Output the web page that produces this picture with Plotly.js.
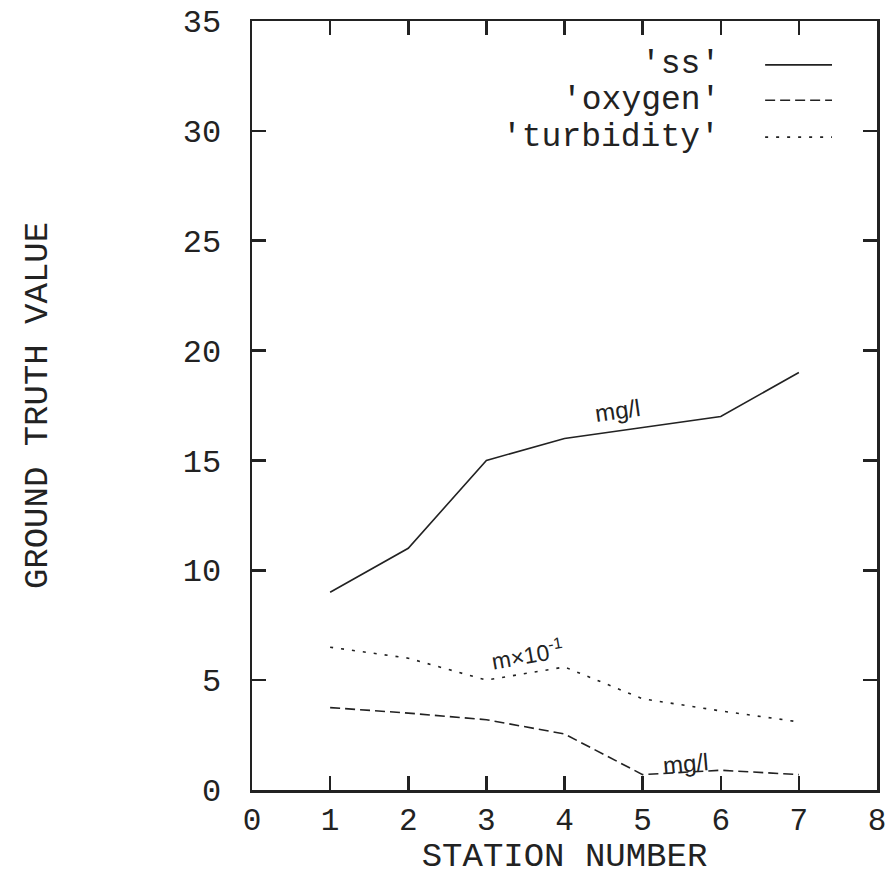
<!DOCTYPE html>
<html><head><meta charset="utf-8">
<script src="https://cdn.plot.ly/plotly-3.0.1.min.js"></script>
<style>html,body{margin:0;padding:0;background:#fff}</style>
</head><body><div id="chart" style="width:887px;height:876px"></div>
<script>
// Data
const stations = [1, 2, 3, 4, 5, 6, 7];
const ss = [9.0, 11.0, 15.0, 16.0, 16.5, 17.0, 19.0];
const oxygen = [3.75, 3.5, 3.2, 2.55, 0.7, 0.9, 0.7];
const turbidity = [6.5, 6.0, 5.0, 5.6, 4.15, 3.6, 3.1];
const seriesNames = ["'ss'", "'oxygen'", "'turbidity'"];
const xTicks = [0, 1, 2, 3, 4, 5, 6, 7, 8];
const yTicks = [0, 5, 10, 15, 20, 25, 30, 35];

const ink = '#222';
const mono = "'Courier New', 'Liberation Mono', monospace";
const sans = "'Liberation Sans', Arial, sans-serif";
const dashes = ['solid', '10px,5px', '3px,8px'];
const seriesData = [ss, oxygen, turbidity];

const traces = seriesData.map((ys, i) => ({
  x: stations, y: ys, type: 'scatter', mode: 'lines', name: seriesNames[i],
  line: {color: ink, width: 1.6, dash: dashes[i]}, showlegend: false, hoverinfo: 'skip'
}));

// legend drawn as right-aligned text with the line sample to its right
const legendRows = [0.943, 0.897, 0.849];
const annotations = seriesNames.map((n, i) => ({
  xref: 'paper', yref: 'paper', x: 0.752, y: legendRows[i], xanchor: 'right', yanchor: 'middle',
  text: n, showarrow: false, font: {family: mono, size: 33, color: ink}
}));
const shapes = legendRows.map((r, i) => ({
  type: 'line', xref: 'paper', yref: 'paper', x0: 0.821, x1: 0.928, y0: r, y1: r,
  line: {color: ink, width: 1.6, dash: dashes[i]}
}));

// unit labels along the curves
annotations.push(
  {x: 4.68, y: 17.25, text: 'mg/l', textangle: -8, showarrow: false, font: {family: sans, size: 24, color: ink}},
  {x: 3.52, y: 6.2, text: 'm×10<sup>-1</sup>', textangle: -10, showarrow: false, font: {family: sans, size: 23, color: ink}},
  {x: 5.55, y: 1.2, text: 'mg/l', textangle: -5, showarrow: false, font: {family: sans, size: 24, color: ink}}
);

const axisCommon = {
  showgrid: false, zeroline: false, showline: true, linecolor: ink, linewidth: 2.5,
  mirror: 'ticks', ticks: 'inside', tickcolor: ink, tickwidth: 2.5, ticklen: 14
};

const layout = {
  width: 887, height: 876, paper_bgcolor: '#fff', plot_bgcolor: '#fff',
  margin: {l: 252, r: 10, t: 21, b: 86},
  xaxis: Object.assign({}, axisCommon, {
    range: [0, 8], tickvals: xTicks, ticktext: xTicks.map(String), ticklabelstandoff: 0,
    tickfont: {family: mono, size: 31, color: ink},
    title: {text: 'STATION NUMBER', font: {family: mono, size: 34, color: ink}, standoff: 4}
  }),
  yaxis: Object.assign({}, axisCommon, {
    range: [0, 35], tickvals: yTicks, ticktext: yTicks.map(String), ticklabelstandoff: 22,
    tickfont: {family: mono, size: 32, color: ink},
    title: {text: 'GROUND TRUTH VALUE', font: {family: mono, size: 34, color: ink}, standoff: 125}
  }),
  annotations: annotations, shapes: shapes
};

Plotly.newPlot('chart', traces, layout, {displayModeBar: false, staticPlot: true});
</script></body></html>
